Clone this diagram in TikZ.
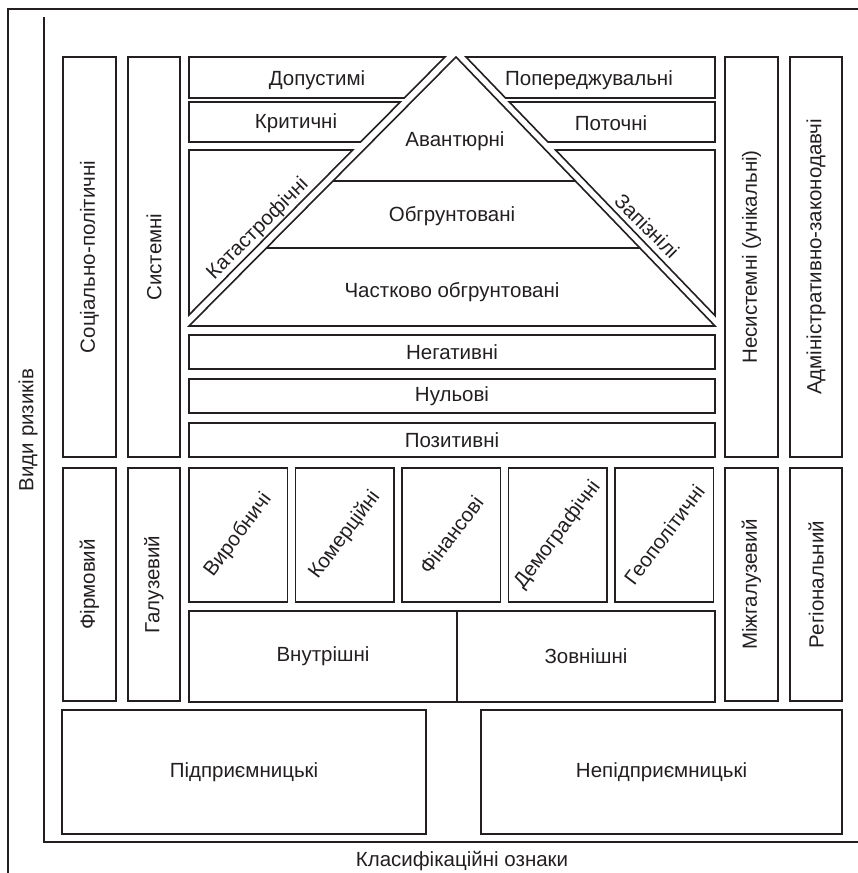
\documentclass[tikz,border=0pt]{standalone}
\usepackage{fontspec}
\setmainfont{Liberation Sans}
\usetikzlibrary{positioning}
\definecolor{ink}{HTML}{231F20}

\begin{document}
\begin{tikzpicture}
 [ x=1pt, y=-1pt
 , line width=1.6pt
 , every node/.style={font=\fontsize{20.5}{24}\selectfont, text=ink}
 , box/.style={draw=ink, rectangle, inner sep=0pt, outer sep=0pt}
 , column/.style={box, rotate=90, minimum width=#1, minimum height=52.5pt}
 , strip/.style={box, minimum width=526pt, minimum height=34pt}
 , branch/.style={box, minimum width=98.5pt, minimum height=134pt}
 , slanted/.style={rotate=53}
 , edge/.style={draw=ink, line join=miter}
 ]
  \useasboundingbox (0,0) rectangle (858,873);

  % frame and axes
  \coordinate (frame bottom) at (8,873);
  \coordinate (frame corner) at (8,9);
  \coordinate (frame right) at (858,9);
  \coordinate (axis top) at (44,17);
  \coordinate (origin) at (44,842);
  \coordinate (axis right) at (858,842);
  \draw[edge] (frame bottom) -- (frame corner) -- (frame right);
  \draw[edge] (axis top) -- (origin) -- (axis right);
  \node[rotate=90] (kinds) at (28,430) {Види ризиків};
  \node (features) at (462,861) {Класифікаційні ознаки};

  % side columns
  \node[column=400pt] (sociopolitical) at (89.5,257) {Соціально-політичні};
  \node[column=400pt] (systemic) at (154,257) {Системні};
  \node[column=400pt] (nonsystemic) at (751.5,257) {Несистемні (унікальні)};
  \node[column=400pt] (administrative) at (816,257) {Адміністративно-законодавчі};
  \node[column=233pt] (firm) at (89.5,584.5) {Фірмовий};
  \node[column=233pt] (branch) at (154,584.5) {Галузевий};
  \node[column=233pt] (interbranch) at (751.5,584.5) {Міжгалузевий};
  \node[column=233pt] (regional) at (816,584.5) {Регіональний};

  % pyramid
  \coordinate (apex) at (456,57);
  \coordinate (base left) at (189,326);
  \coordinate (base right) at (715,326);
  \draw[edge] (apex) -- (base left) -- (base right) -- cycle;
  \draw[edge] (332.9,181) -- (575.4,181);
  \draw[edge] (266.4,248) -- (640,248);
  \node (adventurous) at (455,141) {Авантюрні};
  \node (grounded) at (452,216) {Обгрунтовані};
  \node (partly grounded) at (452,292) {Частково обгрунтовані};

  % left wing
  \draw[edge] (189,57) -- (445,57) -- (404.3,98) -- (189,98) -- cycle;
  \draw[edge] (189,102) -- (400.3,102) -- (360.6,142) -- (189,142) -- cycle;
  \draw[edge] (189,150) -- (352.7,150) -- (189,314.9) -- cycle;
  \node (admissible) at (317,80) {Допустимі};
  \node (critical) at (296,123) {Критичні};
  \node[rotate=45] (catastrophic) at (258,229) {Катастрофічні};

  % right wing
  \draw[edge] (466,57) -- (715,57) -- (715,98) -- (505.5,98) -- cycle;
  \draw[edge] (509.3,102) -- (715,102) -- (715,142) -- (547.9,142) -- cycle;
  \draw[edge] (555.6,150) -- (715,150) -- (715,315.6) -- cycle;
  \node (preventive) at (589,80) {Попереджувальні};
  \node (current) at (611,123) {Поточні};
  \node[rotate=-45] (late) at (647,226) {Запізнілі};

  % result strips
  \node[strip] (negative) at (452,352) {Негативні};
  \node[strip, below=10pt of negative] (zero) {Нульові};
  \node[strip, below=10pt of zero] (positive) {Позитивні};

  % spheres
  \node[branch] (production) at (238.25,535) {};
  \node[branch, right=8pt of production] (commerce) {};
  \node[branch, right=8pt of commerce] (finance) {};
  \node[branch, right=8pt of finance] (demography) {};
  \node[branch, right=8pt of demography] (geopolitics) {};
  \node[slanted] (production text) at (production) {Виробничі};
  \node[slanted] (commerce text) at (commerce) {Комерційні};
  \node[slanted] (finance text) at (finance) {Фінансові};
  \node[slanted] (demography text) at (demography) {Демографічні};
  \node[slanted] (geopolitics text) at (geopolitics) {Геополітичні};

  \node[box, minimum width=268pt, minimum height=91pt] (internal) at (323,656.5) {Внутрішні};
  \node[box, minimum width=258pt, minimum height=91pt, right=0pt of internal] (external) {Зовнішні};

  % bottom
  \node[box, minimum width=364pt, minimum height=124pt] (entrepreneurial) at (244,772) {Підприємницькі};
  \node[box, minimum width=361pt, minimum height=124pt] (nonentrepreneurial) at (661.5,772) {Непідприємницькі};
\end{tikzpicture}
\end{document}
